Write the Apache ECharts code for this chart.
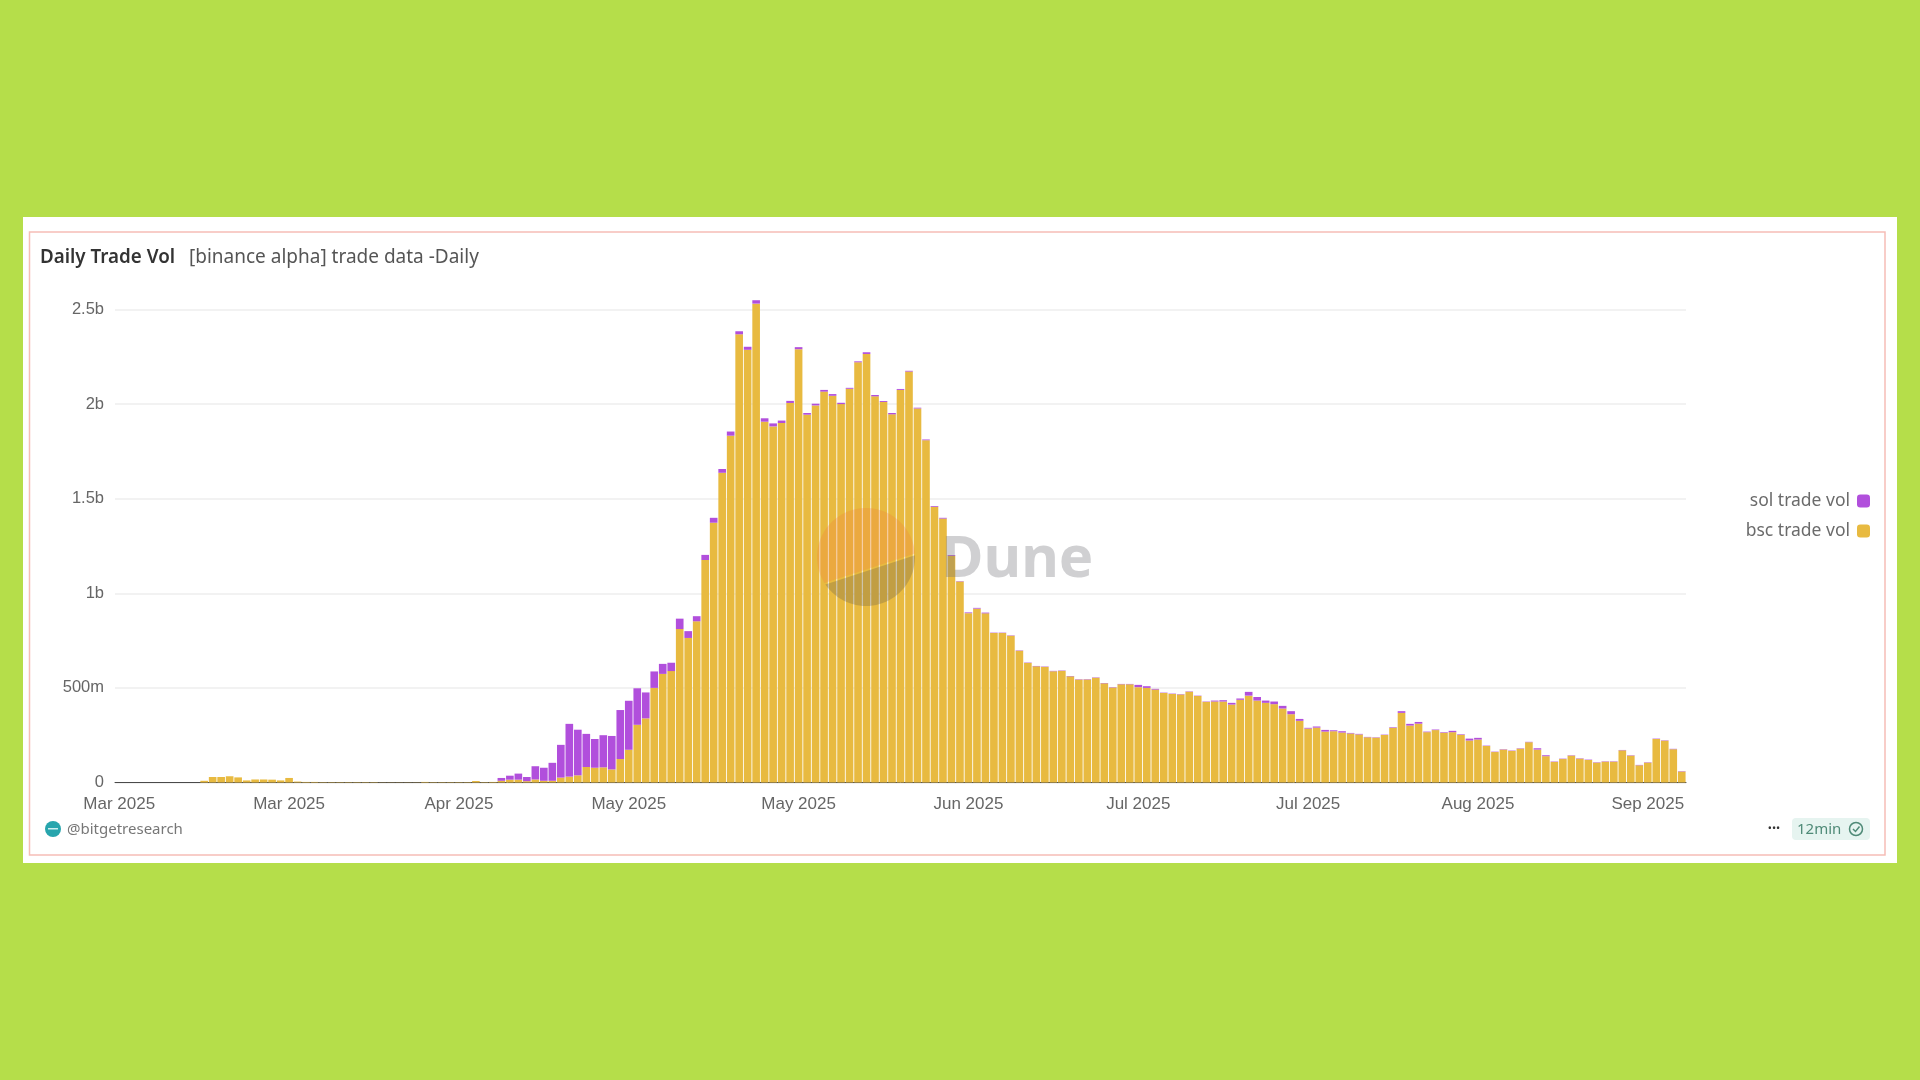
<!DOCTYPE html>
<html>
	<head>
		<meta charset="utf-8">
		<title>Daily Trade Vol</title>
		<script src="https://cdn.jsdelivr.net/npm/echarts@6/dist/echarts.min.js"></script>
		<style>
			html, body { margin: 0; padding: 0; background: #b5de4a; }
		</style>
	</head>
	<body>
		<div id="main" style="width: 1920px;height:1080px;"></div>
		<script type="text/javascript">
			// values in millions, one per day
			var bscVol = [
				0, 0, 0, 0, 0, 0, 0, 0, 0, 0,
				9, 29, 29, 33, 27, 11, 16, 16, 15, 11,
				24, 5, 3, 3, 2, 2, 2, 2, 2, 2,
				2, 1, 1, 1, 1, 1, 3, 2, 2, 2,
				2, 2, 8, 2, 3, 9, 15, 15, 7, 16,
				9, 9, 26, 31, 38, 82, 78, 80, 69, 124,
				173, 305, 339, 500, 574, 589, 811, 764, 852, 1176,
				1373, 1637, 1833, 2369, 2287, 2531, 1907, 1882, 1900, 2006,
				2290, 1944, 1993, 2066, 2044, 2000, 2081, 2221, 2265, 2041,
				2011, 1946, 2075, 2172, 1977, 1809, 1457, 1395, 1198, 1063,
				895, 919, 894, 790, 790, 776, 697, 632, 614, 611,
				588, 590, 561, 544, 544, 554, 524, 502, 519, 519,
				504, 500, 491, 473, 468, 465, 479, 457, 426, 428,
				428, 412, 437, 459, 433, 421, 414, 391, 361, 326,
				285, 290, 269, 271, 264, 259, 254, 239, 237, 251,
				289, 368, 301, 311, 266, 277, 263, 266, 252, 222,
				227, 193, 161, 174, 167, 179, 213, 174, 139, 109,
				124, 142, 126, 119, 105, 110, 110, 170, 142, 91,
				105, 230, 221, 176, 58
			];
			var solVol = [
				0, 0, 0, 0, 0, 0, 0, 0, 0, 0,
				0, 0, 0, 0, 0, 0, 0, 0, 0, 0,
				0, 0, 0, 0, 0, 0, 0, 0, 0, 0,
				0, 0, 0, 0, 0, 0, 0, 0, 0, 0,
				0, 0, 0, 0, 0, 15, 21, 32, 22, 70,
				69, 95, 173, 279, 241, 175, 152, 170, 177, 259,
				259, 193, 137, 87, 53, 44, 55, 36, 27, 27,
				26, 20, 22, 16, 16, 18, 18, 16, 13, 11,
				11, 9, 9, 9, 9, 7, 5, 5, 9, 7,
				5, 7, 5, 4, 4, 4, 4, 4, 4, 2,
				4, 4, 4, 2, 2, 2, 2, 2, 2, 2,
				2, 2, 2, 2, 2, 2, 2, 2, 2, 2,
				12, 9, 4, 2, 2, 2, 2, 2, 2, 5,
				7, 9, 7, 20, 19, 12, 14, 14, 16, 10,
				4, 6, 9, 5, 7, 3, 3, 2, 2, 2,
				3, 9, 9, 9, 3, 3, 3, 7, 3, 10,
				9, 2, 2, 2, 2, 2, 2, 7, 5, 2,
				2, 2, 2, 2, 2, 2, 2, 2, 2, 2,
				2, 2, 2, 2, 2
			];
			var xTickLabels = ['Mar 2025', 'Mar 2025', 'Apr 2025', 'May 2025', 'May 2025', 'Jun 2025', 'Jul 2025', 'Jul 2025', 'Aug 2025', 'Sep 2025'];
			var yTickLabels = { 0: '0', 500: '500m', 1000: '1b', 1500: '1.5b', 2000: '2b', 2500: '2.5b' };

			// one category per day, the first one is Mar 5
			var categories = [];
			for (var i = 0; i < bscVol.length; i++) {
				var d = new Date(Date.UTC(2025, 2, 5 + i));
				categories.push(d.toISOString().slice(0, 10));
			}

			var myChart = echarts.init(document.getElementById('main'));

			var uiFont = '"Noto Sans", sans-serif';
			var axisFont = '"Liberation Sans", sans-serif';

			function label(text, x, y, size, color, weight, align) {
				return {
					type: 'text',
					silent: true,
					z: 10,
					style: {
						text: text,
						x: x,
						y: y,
						fill: color,
						align: align || 'left',
						verticalAlign: 'middle',
						font: (weight || 400) + ' ' + size + 'px ' + uiFont,
					},
				};
			}

			// points along the watermark circle, angles in degrees, screen clockwise
			function arcPoints(from, to) {
				var pts = [];
				for (var a = from; a <= to; a += 4) {
					var rad = a * Math.PI / 180;
					pts.push([866 + 49 * Math.cos(rad), 557 + 49 * Math.sin(rad)]);
				}
				return pts;
			}

			var option = {
				backgroundColor: '#b5de4a',
				animation: false,
				grid: {
					left: 115,
					right: 234,
					top: 309.5,
					bottom: 297.5,
				},
				legend: {
					orient: 'vertical',
					right: 45,
					top: 487,
					align: 'right',
					icon: 'roundRect',
					itemWidth: 13,
					itemHeight: 13,
					itemGap: 12,
					selectedMode: false,
					textStyle: {
						color: '#6b6b6b',
						fontFamily: uiFont,
						fontSize: 17.5,
						padding: [0, 2, 0, 0],
					},
					data: ['sol trade vol', 'bsc trade vol'],
				},
				xAxis: {
					type: 'category',
					data: categories,
					axisTick: { show: false },
					axisLine: {
						lineStyle: { color: '#4a4a4a', width: 1 },
					},
					axisLabel: {
						interval: 19,
						margin: 13,
						color: '#666666',
						fontFamily: axisFont,
						fontSize: 17,
						formatter: function(value, index) {
							return xTickLabels[Math.round(index / 20)];
						},
					},
				},
				yAxis: {
					type: 'value',
					min: 0,
					max: 2500,
					interval: 500,
					axisLine: { show: false },
					axisTick: { show: false },
					axisLabel: {
						margin: 11,
						color: '#666666',
						fontFamily: axisFont,
						fontSize: 16.5,
						formatter: function(value) {
							return yTickLabels[value];
						},
					},
					splitLine: {
						lineStyle: { color: '#eeeeee', width: 1.5 },
					},
				},
				series: [
					{
						name: 'bsc trade vol',
						type: 'bar',
						stack: 'vol',
						clip: false,
						barWidth: '90%',
						itemStyle: { color: '#e8ba40' },
						data: bscVol,
					},
					{
						name: 'sol trade vol',
						type: 'bar',
						stack: 'vol',
						clip: false,
						barWidth: '90%',
						itemStyle: { color: '#b14fdc' },
						data: solVol,
					},
				],
				graphic: [
					// card and its thin pink frame
					{ type: 'rect', silent: true, z: -2, shape: { x: 23, y: 217, width: 1874, height: 646 }, style: { fill: '#ffffff' } },
					{ type: 'rect', silent: true, z: -1, shape: { x: 29.5, y: 232, width: 1855.5, height: 623 }, style: { fill: 'none', stroke: '#f6bdb6', lineWidth: 1.5 } },
					label('Daily Trade Vol', 40, 258, 18.8, '#333333', 600),
					label('[binance alpha] trade data -Daily', 189, 258, 19, '#555555'),
					// footer
					{ type: 'circle', silent: true, z: 10, shape: { cx: 53, cy: 829, r: 8 }, style: { fill: '#27a5ad' } },
					{ type: 'rect', silent: true, z: 11, shape: { x: 48, y: 828, width: 10, height: 1.5 }, style: { fill: '#cdeef0' } },
					label('@bitgetresearch', 67, 830, 15, '#777777'),
					label('•••', 1774, 829, 11, '#333333', 400, 'center'),
					{ type: 'rect', silent: true, z: 9, shape: { x: 1792, y: 818, width: 78, height: 22, r: 4 }, style: { fill: '#e6f4f0' } },
					label('12min', 1797, 830, 15, '#4f8a77'),
					{ type: 'circle', silent: true, z: 10, shape: { cx: 1856, cy: 829, r: 6.5 }, style: { fill: 'none', stroke: '#4f8a77', lineWidth: 1.5 } },
					{ type: 'polyline', silent: true, z: 10, shape: { points: [[1853, 829], [1855.5, 831.5], [1859.5, 826.5]] }, style: { fill: 'none', stroke: '#4f8a77', lineWidth: 1.5 } },
					// Dune watermark over the bars, the circle is split along a slanted chord
					{ type: 'polygon', silent: true, z: 20, shape: { points: arcPoints(148, 358) }, style: { fill: 'rgba(244,120,60,0.25)' } },
					{ type: 'polygon', silent: true, z: 20, shape: { points: arcPoints(-2, 148) }, style: { fill: 'rgba(70,70,80,0.24)' } },
					{
						type: 'text',
						silent: true,
						z: 20,
						style: {
							text: 'Dune',
							x: 941,
							y: 560,
							fill: 'rgba(110,110,115,0.32)',
							verticalAlign: 'middle',
							font: '700 58px ' + uiFont,
						},
					},
				],
			};

			myChart.setOption(option);
		</script>
	</body>
</html>
